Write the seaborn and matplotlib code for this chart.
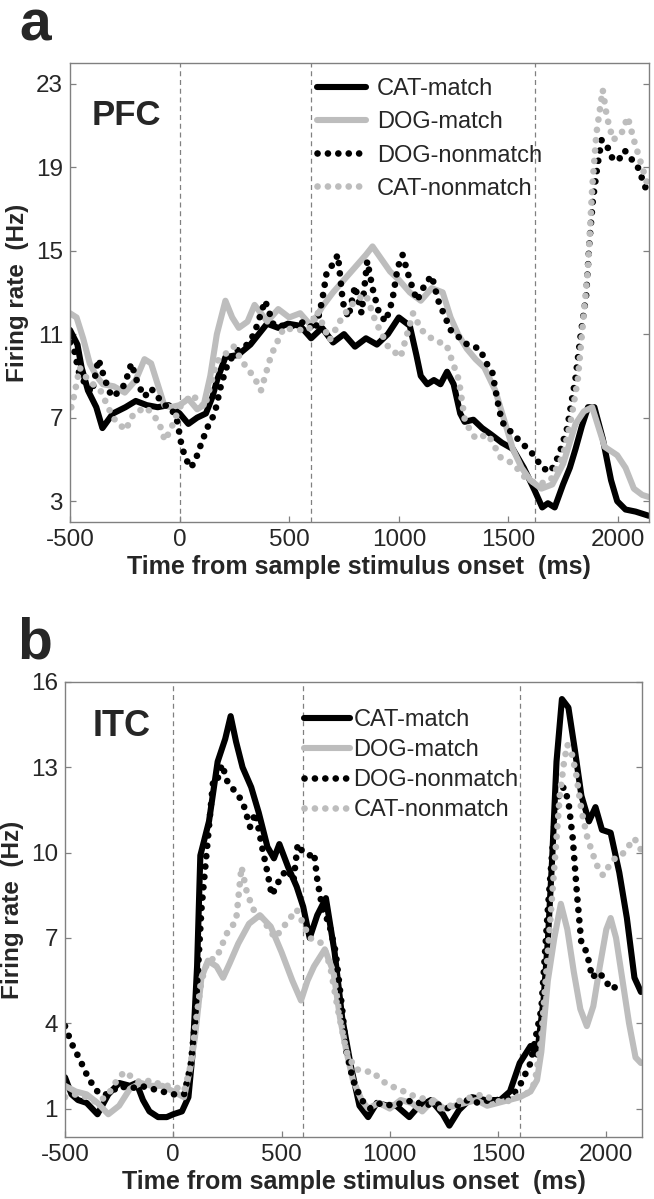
import numpy as np
import pandas as pd
import seaborn as sns
import matplotlib.pyplot as plt

# ---------------- panel a : PFC ----------------
pfc_cat_match_t = [-500, -466, -447, -418, -380, -352, -304, -247, -200, -150, -100, -50, 0, 40, 80, 120, 150,
                   171, 209, 266, 323, 399, 450, 494, 550, 600, 650, 700, 750, 800, 850, 900, 950, 1000,
                   1050, 1080, 1100, 1130, 1160, 1190, 1220, 1250, 1280, 1300, 1340, 1380, 1420, 1470, 1520,
                   1570, 1620, 1654, 1680, 1711, 1749, 1780, 1806, 1835, 1863, 1892, 1930, 1968, 1996, 2034,
                   2080, 2110, 2140]
pfc_cat_match_v = [11.2, 10.5, 9.4, 8.3, 7.5, 6.5, 7.2, 7.5, 7.8, 7.6, 7.5, 7.6, 7.2, 6.7, 7.0, 7.2, 8.0,
                   8.8, 9.9, 10.0, 10.5, 11.5, 11.3, 11.5, 11.4, 10.8, 11.3, 10.6, 11.0, 10.4, 10.8, 10.5,
                   11.0, 11.8, 11.4, 10.0, 9.0, 8.6, 8.8, 8.6, 9.2, 8.6, 7.2, 6.8, 6.9, 6.5, 6.2, 5.8, 5.5,
                   4.6, 3.5, 2.7, 2.9, 2.7, 3.8, 4.6, 5.5, 6.6, 7.5, 7.5, 6.0, 4.0, 3.0, 2.6, 2.5, 2.4, 2.3]

pfc_dog_match_t = [-500, -470, -440, -410, -380, -350, -300, -250, -200, -160, -130, -100, -70, -40, 0, 40,
                   80, 110, 140, 170, 209, 240, 270, 310, 342, 400, 450, 500, 550, 600, 650, 700, 750, 800,
                   850, 880, 920, 960, 1000, 1050, 1100, 1150, 1200, 1236, 1270, 1310, 1350, 1390, 1440,
                   1483, 1520, 1560, 1600, 1650, 1700, 1750, 1806, 1844, 1882, 1939, 1996, 2034, 2072, 2110,
                   2140]
pfc_dog_match_v = [12.0, 11.8, 10.8, 9.6, 9.0, 8.6, 8.5, 8.2, 8.8, 9.8, 9.6, 8.6, 7.6, 7.5, 7.6, 7.9, 7.4,
                   7.6, 9.0, 11.0, 12.6, 11.8, 11.3, 11.6, 12.4, 11.6, 12.2, 11.8, 12.0, 11.4, 12.3, 13.0,
                   13.6, 14.2, 14.8, 15.2, 14.6, 14.0, 13.6, 13.0, 12.6, 13.2, 13.0, 11.8, 11.0, 10.3, 9.8,
                   9.4, 8.3, 6.8, 5.5, 4.6, 4.0, 3.6, 3.8, 4.8, 6.7, 7.3, 7.5, 5.6, 5.2, 4.6, 3.6, 3.3, 3.2]

pfc_dog_nonmatch_t = [-500, -480, -460, -430, -400, -370, -340, -310, -280, -250, -220, -190, -160, -130,
                      -100, -70, -40, -10, 10, 30, 50, 70, 100, 130, 160, 190, 220, 260, 300, 340, 390, 430,
                      470, 520, 570, 620, 650, 670, 690, 722, 745, 770, 800, 830, 856, 880, 910, 940, 970,
                      995, 1017, 1050, 1083, 1120, 1150, 1180, 1236, 1280, 1312, 1369, 1400, 1426, 1450,
                      1470, 1521, 1560, 1616, 1654, 1692, 1730, 1768, 1806, 1830, 1854, 1870, 1885, 1905,
                      1925, 1950, 1975, 2000, 2030, 2060, 2090, 2115, 2140]
pfc_dog_nonmatch_v = [10.6, 10.2, 9.2, 8.6, 8.2, 9.8, 8.8, 8.0, 8.2, 8.6, 9.6, 8.6, 8.0, 8.4, 8.0, 7.6,
                      7.5, 6.8, 5.6, 5.0, 4.6, 4.9, 5.8, 6.6, 7.2, 8.6, 9.6, 10.2, 10.4, 11.0, 12.6, 11.4,
                      11.4, 11.4, 11.6, 11.2, 12.6, 13.9, 14.2, 14.8, 12.5, 11.8, 13.3, 12.0, 14.5, 13.2,
                      12.0, 11.6, 12.6, 14.2, 14.8, 13.6, 12.6, 13.4, 13.8, 12.6, 11.2, 10.8, 10.5, 10.3,
                      9.6, 9.2, 7.8, 6.8, 6.2, 5.8, 5.2, 4.6, 4.4, 5.2, 6.5, 8.9, 11.0, 12.8, 15.5, 17.4,
                      19.0, 20.3, 20.0, 19.4, 19.3, 19.8, 19.4, 19.0, 18.3, 17.6]

pfc_cat_nonmatch_t = [-494, -480, -456, -418, -361, -304, -247, -209, -152, -95, -67, -38, 0, 57, 114, 171,
                      247, 285, 342, 371, 418, 475, 532, 589, 627, 684, 741, 800, 850, 894, 951, 1008, 1065,
                      1103, 1160, 1217, 1274, 1302, 1350, 1407, 1464, 1521, 1578, 1635, 1692, 1749, 1787,
                      1816, 1844, 1863, 1882, 1901, 1930, 1949, 1977, 2015, 2044, 2072, 2110, 2139]
pfc_cat_nonmatch_v = [7.5, 8.1, 9.4, 8.8, 8.3, 7.0, 6.4, 7.2, 7.5, 6.8, 5.9, 6.5, 7.5, 8.1, 7.5, 9.7,
                      10.4, 9.7, 8.9, 8.3, 10.0, 11.3, 11.2, 11.2, 12.1, 10.7, 11.8, 12.6, 12.9, 11.6, 10.4,
                      9.9, 12.0, 11.2, 10.7, 10.5, 8.8, 6.8, 6.0, 6.2, 5.1, 4.8, 4.1, 3.8, 4.0, 5.2, 7.0,
                      8.8, 12.0, 14.2, 18.0, 20.6, 22.7, 21.4, 20.3, 20.6, 21.4, 20.3, 19.0, 18.0]

# ---------------- panel b : ITC ----------------
itc_cat_match_t = [-500, -470, -440, -400, -350, -300, -250, -200, -170, -140, -110, -70, -30, 0, 40, 70,
                   90, 110, 125, 165, 205, 240, 265, 290, 320, 360, 395, 435, 465, 490, 530, 570, 600, 630,
                   665, 705, 745, 780, 820, 860, 900, 940, 990, 1030, 1090, 1130, 1190, 1245, 1275, 1320,
                   1380, 1440, 1510, 1555, 1600, 1650, 1680, 1710, 1730, 1750, 1770, 1795, 1825, 1855, 1885,
                   1920, 1950, 1980, 2020, 2060, 2095, 2130, 2160]
itc_cat_match_v = [2.1, 1.5, 1.3, 1.2, 0.8, 1.5, 1.9, 1.8, 1.9, 1.3, 0.9, 0.7, 0.7, 0.8, 0.9, 1.4, 3.0,
                   6.0, 9.9, 11.1, 13.2, 14.0, 14.8, 13.9, 13.0, 12.3, 11.4, 10.2, 9.8, 10.3, 9.5, 8.8,
                   8.1, 7.0, 7.8, 8.4, 6.5, 4.2, 2.5, 1.1, 0.7, 1.2, 1.1, 1.1, 0.7, 1.05, 1.3, 0.8, 0.4,
                   0.95, 1.4, 1.3, 1.3, 1.6, 2.6, 3.2, 2.9, 4.8, 6.9, 9.8, 13.2, 15.4, 15.1, 13.6, 12.0,
                   11.1, 11.6, 10.8, 10.7, 9.3, 7.7, 5.6, 5.1]

itc_dog_match_t = [-500, -450, -400, -350, -300, -250, -200, -150, -100, -50, 0, 50, 80, 100, 130, 160,
                   200, 230, 260, 300, 350, 400, 450, 500, 550, 590, 620, 650, 700, 740, 770, 800, 830, 870,
                   900, 950, 1000, 1050, 1100, 1150, 1200, 1250, 1300, 1350, 1400, 1450, 1500, 1550, 1600,
                   1650, 1680, 1700, 1730, 1760, 1790, 1820, 1850, 1880, 1910, 1940, 1970, 2000, 2020, 2045,
                   2075, 2105, 2135, 2160]
itc_dog_match_v = [1.8, 1.6, 1.5, 1.2, 0.8, 1.1, 1.7, 1.9, 1.8, 1.8, 1.6, 1.4, 2.5, 3.5, 5.6, 6.2, 6.0,
                   5.6, 6.1, 6.8, 7.5, 7.8, 7.4, 6.5, 5.5, 4.8, 5.5, 6.0, 6.6, 5.8, 4.2, 3.0, 2.0, 1.3, 1.0,
                   1.2, 1.0, 1.3, 1.2, 0.9, 1.3, 1.0, 1.1, 1.2, 1.3, 1.1, 1.2, 1.3, 1.4, 1.6, 2.0, 3.0,
                   5.5, 7.0, 8.2, 7.3, 5.8, 4.5, 3.9, 4.6, 6.0, 7.3, 7.7, 7.0, 5.5, 4.0, 2.8, 2.6]

itc_dog_nonmatch_t = [-500, -470, -430, -400, -370, -340, -300, -250, -200, -150, -100, -50, 0, 50, 80,
                      100, 130, 160, 185, 205, 225, 250, 280, 320, 355, 380, 410, 435, 455, 475, 500, 530,
                      555, 575, 600, 630, 650, 666, 690, 720, 750, 780, 800, 830, 870, 910, 960, 1010,
                      1060, 1110, 1160, 1210, 1260, 1310, 1360, 1410, 1460, 1510, 1560, 1600, 1650, 1700,
                      1730, 1760, 1785, 1805, 1825, 1845, 1865, 1885, 1910, 1935, 1960, 1990, 2020, 2050,
                      2080]
itc_dog_nonmatch_v = [3.9, 3.3, 2.7, 2.2, 1.8, 1.5, 1.5, 1.8, 1.7, 1.8, 1.7, 1.6, 1.5, 1.5, 2.5, 4.0,
                      8.0, 10.5, 12.6, 12.6, 13.1, 12.5, 12.2, 11.8, 10.9, 11.4, 10.2, 9.3, 8.5, 8.8, 9.2,
                      9.4, 9.0, 10.3, 10.0, 9.9, 10.0, 9.0, 8.0, 7.5, 6.5, 4.5, 3.0, 2.0, 1.3, 1.0, 1.2,
                      1.1, 1.2, 1.3, 1.1, 1.2, 1.0, 1.1, 1.3, 1.2, 1.3, 1.3, 1.4, 1.8, 2.6, 4.5, 8.0, 11.0,
                      12.2, 12.3, 11.8, 10.5, 8.5, 6.8, 6.5, 5.6, 5.8, 5.6, 5.2, 5.3, 5.4]

itc_cat_nonmatch_t = [-500, -450, -400, -350, -300, -260, -225, -190, -150, -100, -50, 0, 50, 80, 100,
                      130, 160, 200, 250, 290, 315, 340, 370, 400, 435, 470, 500, 530, 570, 600, 630, 660,
                      690, 725, 760, 800, 840, 880, 920, 960, 1000, 1040, 1090, 1130, 1180, 1230, 1280,
                      1330, 1380, 1430, 1480, 1530, 1580, 1630, 1670, 1700, 1730, 1760, 1785, 1805, 1820,
                      1840, 1860, 1885, 1910, 1935, 1960, 1985, 2010, 2040, 2070, 2100, 2130, 2160]
itc_cat_nonmatch_v = [1.4, 1.5, 1.4, 1.2, 1.5, 2.0, 2.3, 2.1, 1.9, 2.0, 1.8, 1.8, 1.6, 2.5, 3.8, 5.5,
                      6.2, 6.3, 7.2, 7.6, 9.5, 8.6, 8.0, 7.8, 7.4, 7.0, 7.3, 7.6, 8.0, 7.5, 7.0, 6.9, 6.8,
                      6.0, 4.5, 3.0, 2.4, 2.3, 2.3, 2.0, 1.8, 1.7, 1.5, 1.4, 1.3, 1.0, 1.1, 1.3, 1.4, 1.5,
                      1.3, 1.2, 1.4, 1.5, 1.9, 3.5, 6.5, 9.5, 12.0, 13.2, 13.8, 13.5, 12.8, 11.5, 10.6,
                      10.0, 9.5, 9.2, 9.5, 9.8, 9.9, 10.2, 10.5, 10.1]

labels = ['CAT-match', 'DOG-match', 'DOG-nonmatch', 'CAT-nonmatch']
pfc_events = [0, 600, 1620]
itc_events = [0, 600, 1600]
pfc_yticks = [3, 7, 11, 15, 19, 23]
itc_yticks = [1, 4, 7, 10, 13, 16]
xticks = [-500, 0, 500, 1000, 1500, 2000]

BLACK = '#000000'
GRAY = '#bdbdbd'
DOTS = (0, (0.01, 1.55))

sns.set_style('white')
plt.rcParams['font.family'] = ['Liberation Sans', 'DejaVu Sans']
plt.rcParams['axes.unicode_minus'] = False

fig = plt.figure(figsize=(6.54, 11.99), dpi=100)
ax_a = fig.add_axes([0.107, 0.5646, 0.885, 0.3831])
ax_b = fig.add_axes([0.0994, 0.0517, 0.8823, 0.3795])


def draw_panel(ax, series, events):
    styles = [dict(color=BLACK, lw=4.4, ls='-', solid_capstyle='round'),
              dict(color=GRAY, lw=4.4, ls='-', solid_capstyle='round'),
              dict(color=BLACK, lw=4.8, ls=DOTS, dash_capstyle='round'),
              dict(color=GRAY, lw=4.8, ls=DOTS, dash_capstyle='round')]
    for (t, v), lab, st in zip(series, labels, styles):
        df = pd.DataFrame({'t': t, 'rate': v})
        sns.lineplot(data=df, x='t', y='rate', ax=ax, label=lab, estimator=None, sort=False, **st)
    for ev in events:
        ax.axvline(ev, color='#808080', lw=0.9, ls=(0, (4, 3)), zorder=0)


draw_panel(ax_a, [(pfc_cat_match_t, pfc_cat_match_v), (pfc_dog_match_t, pfc_dog_match_v),
                  (pfc_dog_nonmatch_t, pfc_dog_nonmatch_v), (pfc_cat_nonmatch_t, pfc_cat_nonmatch_v)],
           pfc_events)
draw_panel(ax_b, [(itc_cat_match_t, itc_cat_match_v), (itc_dog_match_t, itc_dog_match_v),
                  (itc_dog_nonmatch_t, itc_dog_nonmatch_v), (itc_cat_nonmatch_t, itc_cat_nonmatch_v)],
           itc_events)

for ax, ylim, yt, xmax in [(ax_a, (2, 24), pfc_yticks, 2140), (ax_b, (0, 16), itc_yticks, 2165)]:
    ax.set_xlim(-500, xmax)
    ax.set_ylim(*ylim)
    ax.set_xticks(xticks)
    ax.set_yticks(yt)
    ax.tick_params(direction='in', length=4, width=0.9, color='#808080', labelsize=17.5,
                   right=True, left=True, bottom=True, top=False, pad=5)
    for sp in ax.spines.values():
        sp.set_color('#808080')
        sp.set_linewidth(1.0)
        sp.set_visible(True)
    ax.set_xlabel('Time from sample stimulus onset  (ms)', fontsize=18, fontweight='bold', labelpad=3)
    ax.set_ylabel('Firing rate  (Hz)', fontsize=17.5, fontweight='bold', labelpad=5)

ax_a.legend(loc='upper left', bbox_to_anchor=(0.4266, 0.966), frameon=False, fontsize=17,
            handlelength=2.1, handletextpad=0.45, labelspacing=0.47, borderpad=0, borderaxespad=0)
ax_b.legend(loc='upper left', bbox_to_anchor=(0.414, 0.94), frameon=False, fontsize=17,
            handlelength=1.95, handletextpad=0.15, labelspacing=0.34, borderpad=0, borderaxespad=0)

ax_a.text(0.038, 0.865, 'PFC', transform=ax_a.transAxes, fontsize=25, fontweight='bold', va='baseline')
ax_b.text(0.0485, 0.881, 'ITC', transform=ax_b.transAxes, fontsize=26, fontweight='bold', va='baseline')

fig.text(0.03, 0.9665, 'a', fontsize=41, fontweight='bold', va='baseline')
fig.text(0.027, 0.451, 'b', fontsize=41, fontweight='bold', va='baseline')

fig.savefig('out.png', dpi=100)
